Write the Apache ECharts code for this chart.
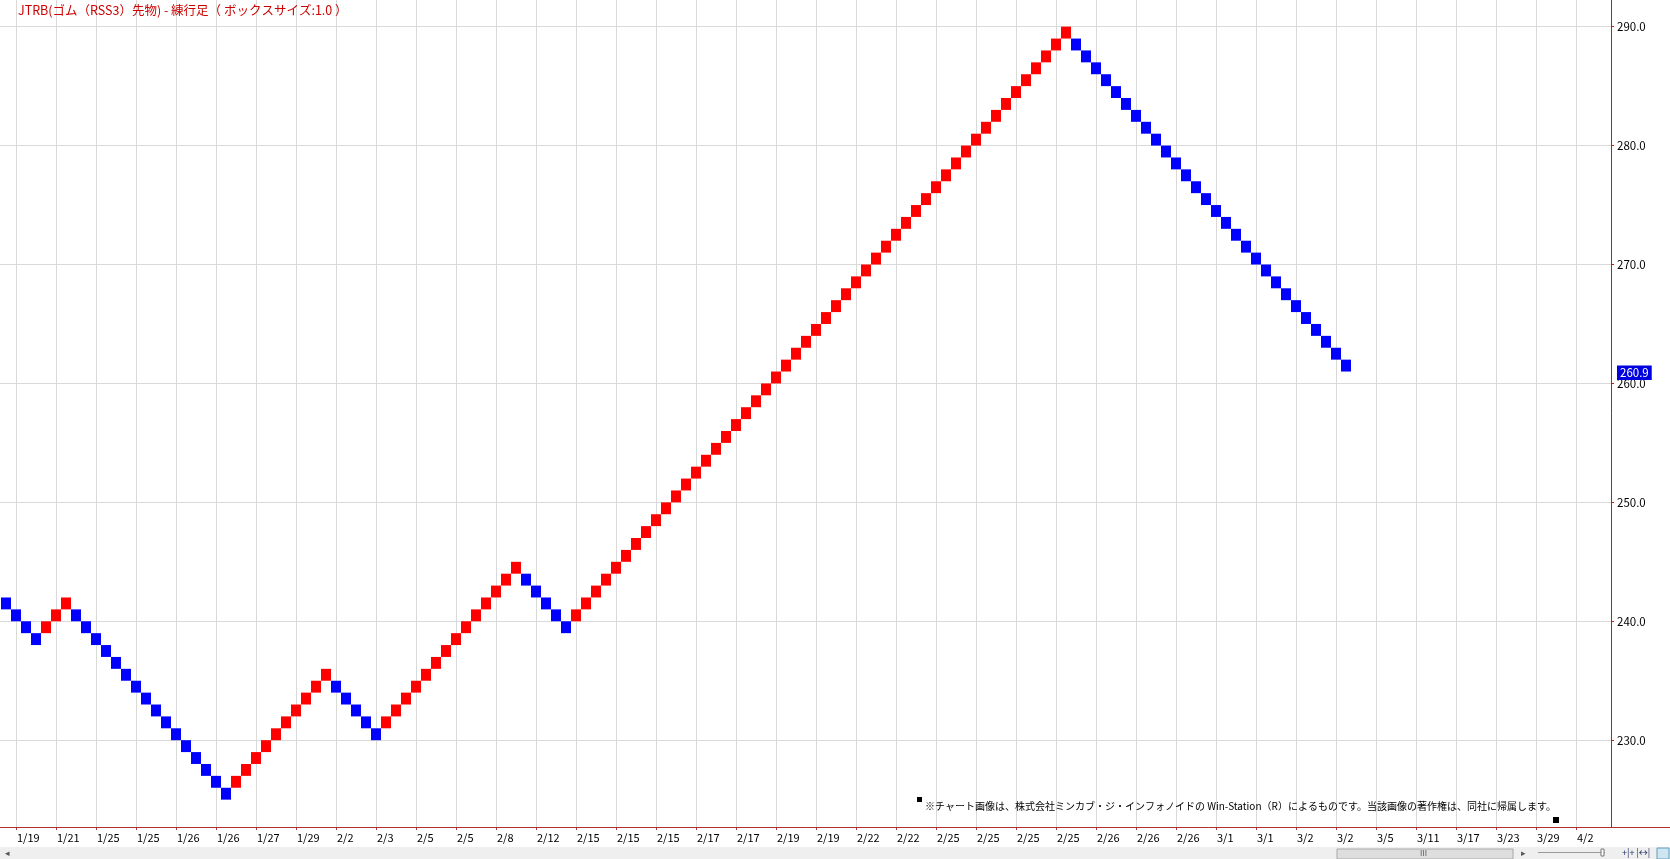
<!DOCTYPE html>
<html><head><meta charset="utf-8">
<script src="https://cdn.jsdelivr.net/npm/echarts@6/dist/echarts.min.js"></script>
<style>html,body{margin:0;padding:0;background:#fff}#c{width:1670px;height:859px}</style>
</head><body><div id="c"></div>
<script>
const titleText = 'JTRB(ゴム（RSS3）先物) - 練行足（ ボックスサイズ:1.0 ）';
const noteText = '※チャート画像は、株式会社ミンカブ・ジ・インフォノイドの Win-Station（R）によるものです。当該画像の著作権は、同社に帰属します。';
const boxSize = 1.0;
const lastPrice = 260.9;

// lower edge of each renko brick, left to right
const brickLow = [
  241,240,239,238,
  239,240,241,
  240,239,238,237,236,235,234,233,232,231,230,229,228,227,226,225,
  226,227,228,229,230,231,232,233,234,235,
  234,233,232,231,230,
  231,232,233,234,235,236,237,238,239,240,241,242,243,244,
  243,242,241,240,239,
  240,241,242,243,244,245,246,247,248,249,250,251,252,253,254,255,256,257,258,259,
  260,261,262,263,264,265,266,267,268,269,270,271,272,273,274,275,276,277,278,279,
  280,281,282,283,284,285,286,287,288,289,
  288,287,286,285,284,283,282,281,280,279,278,277,276,275,274,273,272,271,270,269,
  268,267,266,265,264,263,262,261
];
// direction of each brick: U = up (red), D = down (blue)
const brickDir = [
  'D','D','D','D',
  'U','U','U',
  'D','D','D','D','D','D','D','D','D','D','D','D','D','D','D','D',
  'U','U','U','U','U','U','U','U','U','U',
  'D','D','D','D','D',
  'U','U','U','U','U','U','U','U','U','U','U','U','U','U',
  'D','D','D','D','D',
  'U','U','U','U','U','U','U','U','U','U','U','U','U','U','U','U','U','U','U','U',
  'U','U','U','U','U','U','U','U','U','U','U','U','U','U','U','U','U','U','U','U',
  'U','U','U','U','U','U','U','U','U','U',
  'D','D','D','D','D','D','D','D','D','D','D','D','D','D','D','D','D','D','D','D',
  'D','D','D','D','D','D','D','D'
];
// date labels shown every 4 bricks (starting at the 2nd brick)
const dateLabels = ['1/19','1/21','1/25','1/25','1/26','1/26','1/27','1/29','2/2','2/3',
  '2/5','2/5','2/8','2/12','2/15','2/15','2/15','2/17','2/17','2/19',
  '2/19','2/22','2/22','2/25','2/25','2/25','2/25','2/26','2/26','2/26',
  '3/1','3/1','3/2','3/2','3/5','3/11','3/17','3/23','3/29','4/2'];
const labelStep = 4;

const UP = '#ff0000', DOWN = '#0000ff';
const GRID = '#d9d9d9';
const XAXIS = '#b03030', YAXIS = '#c41a1a';
const FONT = '"Noto Sans CJK JP", "Noto Sans", sans-serif';

const brickData = brickLow.map((lo, i) => [i - 1, lo, lo + boxSize, brickDir[i] === 'U' ? 1 : 0]);

const chart = echarts.init(document.getElementById('c'), null, {renderer: 'canvas'});
chart.setOption({
  animation: false,
  backgroundColor: '#ffffff',
  grid: {left: -3, right: 59, top: -2, bottom: 32, containLabel: false, outerBoundsMode: 'none'},
  xAxis: {
    type: 'value', min: -1.9, max: 159.5, minInterval: labelStep, maxInterval: labelStep,
    axisLine: {show: true, onZero: false, lineStyle: {color: XAXIS, width: 1}},
    axisTick: {show: true, length: 3, lineStyle: {color: XAXIS}},
    splitLine: {show: true, lineStyle: {color: GRID, width: 1}},
    axisLabel: {
      show: true, showMinLabel: false, showMaxLabel: false, hideOverlap: false,
      align: 'left', margin: 5, padding: [0, 0, 0, 1],
      color: '#000', fontSize: 11, fontFamily: FONT,
      formatter: v => {
        if (Math.abs(v / labelStep - Math.round(v / labelStep)) > 1e-6) return '';
        const k = Math.round(v / labelStep);
        return dateLabels[k] !== undefined ? dateLabels[k] : '';
      }
    }
  },
  yAxis: {
    type: 'value', position: 'right', min: 222.7, max: 292.41, minInterval: 10, maxInterval: 10,
    axisLine: {show: true, onZero: false, lineStyle: {color: YAXIS, width: 1}},
    axisTick: {show: true, length: 3, lineStyle: {color: YAXIS}},
    splitLine: {show: true, lineStyle: {color: GRID, width: 1}},
    axisLabel: {
      show: true, showMinLabel: false, showMaxLabel: false, margin: 6,
      color: '#000', fontSize: 11.5, fontFamily: FONT,
      formatter: v => (Math.abs(v / 10 - Math.round(v / 10)) < 1e-6 ? v.toFixed(1) : '')
    }
  },
  series: [
    {
      type: 'custom', data: brickData, encode: {x: 0, y: [1, 2]}, clip: true,
      renderItem: (params, api) => {
        const x = api.value(0), lo = api.value(1), hi = api.value(2);
        const p0 = api.coord([x - 0.5, hi]);
        const p1 = api.coord([x + 0.5, lo]);
        return {type: 'rect', shape: {x: p0[0], y: p0[1], width: p1[0] - p0[0], height: p1[1] - p0[1]},
          style: {fill: api.value(3) ? UP : DOWN}};
      },
      markLine: {
        silent: true, symbol: 'none', animation: false,
        lineStyle: {width: 0, color: 'rgba(0,0,0,0)', opacity: 1},
        label: {show: true, position: 'end', distance: 6, formatter: lastPrice.toFixed(1), opacity: 1,
          color: '#fff', backgroundColor: '#0000e0', padding: [2, 3, 1, 3], fontSize: 11.5, fontFamily: FONT},
        data: [{yAxis: lastPrice}]
      }
    }
  ],
  graphic: [
    {type: 'text', left: 18, top: 4, z: 100, style: {text: titleText, fill: '#cc0000', font: '12.5px ' + FONT}},
    {type: 'line', z: 100, shape: {x1: 1611, y1: 827.5, x2: 1670, y2: 827.5}, style: {stroke: XAXIS, lineWidth: 1}},
    {type: 'rect', z: 100, shape: {x: 917, y: 797, width: 5, height: 5}, style: {fill: '#000'}},
    {type: 'text', x: 925, y: 801, z: 100, style: {text: noteText, fill: '#000', font: '10px ' + FONT}},
    {type: 'rect', z: 100, shape: {x: 1553, y: 817, width: 6, height: 6}, style: {fill: '#000'}},
    {type: 'rect', z: 100, shape: {x: 0, y: 847, width: 1670, height: 12}, style: {fill: '#efefef'}},
    {type: 'text', x: 5, y: 848, z: 101, style: {text: '◂', fill: '#555', font: '9px ' + FONT}},
    {type: 'rect', z: 101, shape: {x: 1337, y: 849, width: 176, height: 10}, style: {fill: '#dedede', stroke: '#a8a8a8', lineWidth: 1}},
    {type: 'text', x: 1420, y: 849, z: 102, style: {text: 'III', fill: '#555', font: '8px ' + FONT}},
    {type: 'text', x: 1521, y: 848, z: 101, style: {text: '▸', fill: '#555', font: '9px ' + FONT}},
    {type: 'line', z: 101, shape: {x1: 1538, y1: 852.5, x2: 1605, y2: 852.5}, style: {stroke: '#999', lineWidth: 1}},
    {type: 'rect', z: 101, shape: {x: 1601, y: 849, width: 3, height: 7}, style: {fill: '#fff', stroke: '#777', lineWidth: 1}},
    {type: 'text', x: 1622, y: 848, z: 101, style: {text: '+|+ |↔|', fill: '#203060', font: '9px ' + FONT}},
    {type: 'rect', z: 101, shape: {x: 1657, y: 848, width: 12, height: 11}, style: {fill: '#cfe6f0', stroke: '#5aa0c0', lineWidth: 1}}
  ]
});
</script>
</body></html>
